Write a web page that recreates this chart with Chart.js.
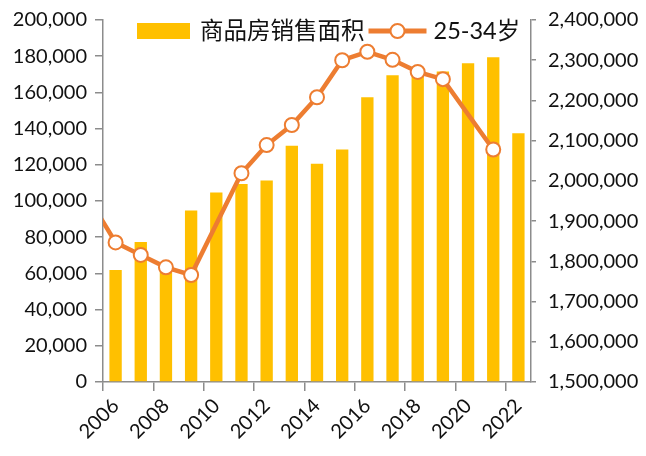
<!DOCTYPE html>
<html>
<head>
<meta charset="utf-8">
<script src="https://cdn.jsdelivr.net/npm/chart.js@4/dist/chart.umd.min.js"></script>
<style>
  html, body { margin: 0; padding: 0; background: #fff; }
  #wrap { width: 646px; height: 456px; }
</style>
</head>
<body>
<div id="wrap"><canvas id="mainChart" width="646" height="456"></canvas></div>
<script>
// data (2005 only shows as the line entering from the left edge)
const years = ['2005', '2006', '2007', '2008', '2009', '2010', '2011', '2012', '2013',
               '2014', '2015', '2016', '2017', '2018', '2019', '2020', '2021', '2022'];
const salesArea = [null, 61857, 77355, 65969, 94755, 104765, 109367, 111304, 130551,
                   120649, 128495, 157349, 169408, 171654, 171558, 176086, 179433, 137500];
const pop2534 = [1950000, 1847000, 1816000, 1785000, 1766000, null, 2019000, 2089000, 2139000,
                 2208000, 2300000, 2321000, 2301000, 2271000, 2253000, null, 2078000, null];
const seriesNames = ['商品房销售面积', '25-34岁'];

const BAR = '#FFC000';
const LINE = '#ED7D31';
const AXIS = '#8c8c8c';
const TEXT = '#111';
const FONT = "Lato, 'Noto Sans CJK SC', sans-serif";

const fmt = v => Number(v).toLocaleString('en-US');

// legend drawn inside the plot area: bar swatch, and a line with a hollow marker
const legendInside = {
    id: 'legendInside',
    afterDraw(chart) {
        const ctx = chart.ctx;
        const area = chart.chartArea;
        const y = area.top + 11;
        ctx.save();
        ctx.font = '23.5px ' + FONT;
        ctx.textBaseline = 'middle';
        let x = area.left + 34;
        ctx.fillStyle = BAR;
        ctx.fillRect(x, y - 8, 53, 16);
        x += 63;
        ctx.fillStyle = TEXT;
        ctx.fillText(seriesNames[0], x, y);
        x += ctx.measureText(seriesNames[0]).width + 4;
        ctx.strokeStyle = LINE;
        ctx.lineWidth = 5;
        ctx.beginPath();
        ctx.moveTo(x, y);
        ctx.lineTo(x + 58, y);
        ctx.stroke();
        ctx.beginPath();
        ctx.arc(x + 29, y, 7, 0, Math.PI * 2);
        ctx.fillStyle = '#fff';
        ctx.fill();
        ctx.lineWidth = 2;
        ctx.stroke();
        x += 65;
        ctx.fillStyle = TEXT;
        ctx.fillText(seriesNames[1], x, y);
        ctx.restore();
    }
};

const ctx = document.getElementById('mainChart').getContext('2d');
new Chart(ctx, {
    type: 'bar',
    data: {
        labels: years,
        datasets: [{
            type: 'line',
            label: seriesNames[1],
            data: pop2534,
            yAxisID: 'y1',
            borderColor: LINE,
            borderWidth: 4.5,
            pointRadius: 7,
            pointBorderWidth: 2,
            pointBackgroundColor: '#fff',
            pointBorderColor: LINE,
            spanGaps: true,
            tension: 0,
            order: 1
        }, {
            label: seriesNames[0],
            data: salesArea,
            yAxisID: 'y',
            backgroundColor: BAR,
            categoryPercentage: 1,
            barPercentage: 0.49,
            order: 2
        }]
    },
    options: {
        responsive: false,
        animation: false,
        layout: { padding: { top: 20, left: 0, right: 0, bottom: 0 } },
        plugins: {
            legend: { display: false },
            tooltip: { enabled: false }
        },
        scales: {
            x: {
                min: '2006',
                grid: {
                    offset: true,
                    drawOnChartArea: false,
                    tickLength: 9,
                    lineWidth: 1.5,
                    color: c => (c.index % 2 === 0 ? AXIS : 'rgba(0,0,0,0)')
                },
                border: { color: AXIS, width: 1.5 },
                ticks: {
                    autoSkip: false,
                    maxRotation: 45,
                    minRotation: 45,
                    color: TEXT,
                    font: { family: FONT, size: 20 },
                    callback: function (value, index) {
                        return index % 2 === 0 ? this.getLabelForValue(value) : '';
                    }
                },
                afterFit: s => { s.height = 74; }
            },
            y: {
                position: 'left',
                min: 0,
                max: 200000,
                grid: { drawOnChartArea: false, tickLength: 8, color: AXIS, lineWidth: 1.5 },
                border: { color: AXIS, width: 1.5 },
                ticks: {
                    stepSize: 20000,
                    padding: 8,
                    color: TEXT,
                    font: { family: FONT, size: 20, lineHeight: 0.8 },
                    callback: v => fmt(v)
                },
                afterFit: s => { s.width = 103; }
            },
            y1: {
                position: 'right',
                min: 1500000,
                max: 2400000,
                grid: { drawOnChartArea: false, tickLength: 5, color: AXIS, lineWidth: 1.5 },
                border: { color: AXIS, width: 1.5 },
                ticks: {
                    stepSize: 100000,
                    padding: 12,
                    color: TEXT,
                    font: { family: FONT, size: 20, lineHeight: 0.8 },
                    callback: v => fmt(v)
                },
                afterFit: s => { s.width = 115; }
            }
        }
    },
    plugins: [legendInside]
});
</script>
</body>
</html>
